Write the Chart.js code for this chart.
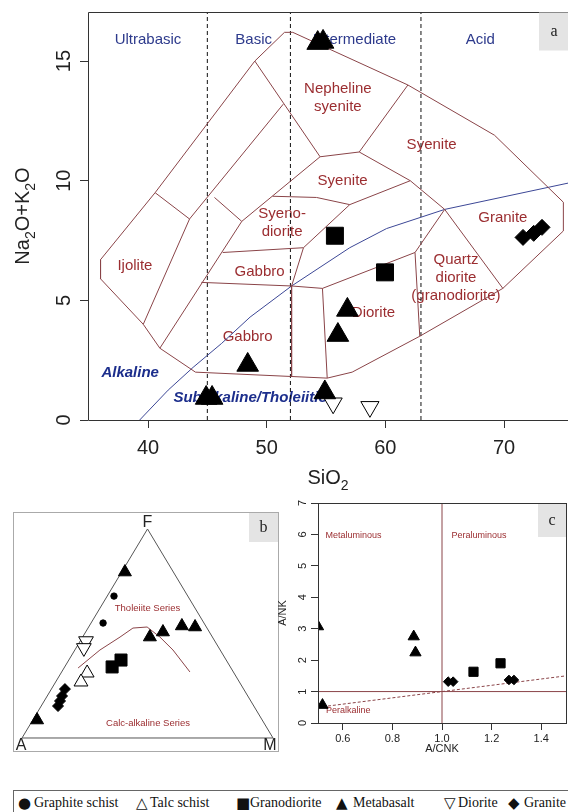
<!DOCTYPE html>
<html>
<head>
<meta charset="utf-8">
<script src="https://cdn.jsdelivr.net/npm/chart.js@4.4.1/dist/chart.umd.min.js"></script>
<style>
html, body { margin: 0; padding: 0; background: #fff; width: 568px; height: 812px; overflow: hidden; }
canvas { position: absolute; }
#legend { position: absolute; left: 13px; top: 790px; width: 600px; height: 40px;
  border-top: 1px solid #666; border-left: 1px solid #666; font: 14px "Liberation Serif", serif; color: #111; }
#legend span { position: absolute; top: 4px; line-height: 16px; white-space: nowrap; }
#legend .sym { font: 15px "DejaVu Sans", sans-serif; top: 3px; }
</style>
</head>
<body>
<canvas id="tas" width="568" height="495" style="left:0;top:0"></canvas>
<canvas id="afm" width="266" height="240" style="left:13px;top:512px"></canvas>
<canvas id="shand" width="296" height="265" style="left:272px;top:495px"></canvas>
<div id="legend"></div>
<script>
// ---------- panel a : TAS ----------
const siO2Ticks = [40, 50, 60, 70];
const alkaliTicks = [0, 5, 10, 15];
const silicaDividers = [45, 52, 63];
const silicaClasses = ['Ultrabasic', 'Basic', 'Intermediate', 'Acid'];
const silicaClassX = [40.0, 48.9, 57.4, 68.0];

const fieldOutline = [[36.0,6.7],[36.0,5.9],[39.6,4.0],[41.0,3.0],[44.0,2.0],[55.1,1.75],[57.2,2.0],
  [62.9,3.5],[69.9,5.5],[75.0,7.9],[75.0,9.1],[69.2,11.9],[61.9,14.0],[52.2,16.2],[51.5,16.2],
  [49.0,15.0],[40.6,9.5],[36.0,6.7]];
const fieldLines = [
  [[40.6,9.5],[43.5,8.4]],
  [[39.6,4.0],[43.5,8.4],[51.4,13.2]],
  [[45.6,9.3],[47.9,8.3]],
  [[41.0,3.0],[47.9,8.3],[54.5,11.0]],
  [[49.0,15.0],[54.5,11.0]],
  [[54.5,11.0],[57.8,11.2],[61.9,14.0]],
  [[57.8,11.2],[62.1,10.0],[65.0,8.8],[69.9,5.5]],
  [[50.5,9.35],[54.2,9.3],[57.0,9.0],[62.1,10.0]],
  [[57.0,9.0],[53.1,7.2],[52.1,5.6]],
  [[46.3,7.0],[53.1,7.2]],
  [[44.5,5.75],[52.1,5.6],[54.7,5.5]],
  [[52.1,5.6],[52.1,1.8]],
  [[54.7,5.5],[55.1,1.75]],
  [[54.7,5.5],[62.5,7.0],[65.0,8.8]],
  [[62.5,7.0],[62.9,3.5]]
];
const alkalineDivide = [[39.3,0],[41.7,1.25],[43.8,2.2],[46.2,3.2],[48.6,4.3],[52.1,5.6],
  [57.0,7.2],[60.1,8.0],[65.0,8.8],[75.4,9.9]];

const fieldNames = [
  [['Nepheline', 'syenite'], 56.0, 13.45],
  [['Syenite'], 63.9, 11.5],
  [['Syenite'], 56.4, 10.0],
  [['Syeno-', 'diorite'], 51.3, 8.25],
  [['Gabbro'], 49.4, 6.17],
  [['Ijolite'], 38.9, 6.46],
  [['Gabbro'], 48.4, 3.46],
  [['Diorite'], 59.0, 4.46],
  [['Granite'], 69.9, 8.46],
  [['Quartz', 'diorite', '(granodiorite)'], 65.95, 5.96]
];
const seriesNames = [['Alkaline', 38.5, 1.96], ['Subalkaline/Tholeiitic', 48.6, 0.92]];

const metabasaltSi = [54.3, 54.75, 56.8, 56.0, 48.4, 44.9, 45.4, 54.9];
const metabasaltAlk = [15.75, 15.8, 4.6, 3.55, 2.3, 0.92, 0.92, 1.15];
const dioriteSi = [55.6, 58.7];
const dioriteAlk = [0.7, 0.55];
const granodioriteSi = [55.75, 59.97];
const granodioriteAlk = [7.7, 6.17];
const graniteSi = [71.6, 72.5, 73.2];
const graniteAlk = [7.63, 7.8, 8.05];

// ---------- panel b : AFM (F %, M %) ----------
const afmMetabasaltF = [79.4, 48.3, 50.7, 53.6, 53.1, 8.6];
const afmMetabasaltM = [1.3, 26.8, 30.8, 36.9, 42.4, 1.7];
const afmGraphiteF = [67.9, 55.0];
const afmGraphiteM = [2.7, 4.8];
const afmDioriteF = [46.4, 43.1];
const afmDioriteM = [2.3, 3.1];
const afmTalcF = [31.1, 26.8];
const afmTalcM = [10.4, 10.1];
const afmGranodioriteF = [34.0, 37.3];
const afmGranodioriteM = [18.9, 20.8];
const afmGraniteF = [23.4, 20.1, 17.7, 15.3];
const afmGraniteM = [5.4, 5.9, 6.3, 6.7];
const tholeiiteLineF = [33.5, 42.1, 48.3, 52.6, 53.1, 48.3, 42.1, 31.6];
const tholeiiteLineM = [5.6, 10.0, 14.9, 17.9, 23.3, 30.8, 39.1, 51.1];

// ---------- panel c : A/NK vs A/CNK ----------
const acnkTicks = [0.6, 0.8, 1.0, 1.2, 1.4];
const ankTicks = [0, 1, 2, 3, 4, 5, 6, 7];
const shandMetabasaltX = [0.5, 0.886, 0.893, 0.518];
const shandMetabasaltY = [3.07, 2.75, 2.24, 0.57];
const shandGranodioriteX = [1.127, 1.236];
const shandGranodioriteY = [1.63, 1.9];
const shandGraniteX = [1.025, 1.045, 1.27, 1.29];
const shandGraniteY = [1.315, 1.315, 1.37, 1.37];

const legendNames = ['Graphite schist', 'Talc schist', 'Granodiorite', 'Metabasalt', 'Diorite', 'Granite'];
const legendSymbols = ['\u25CF', '\u25B3', '\u25A0', '\u25B2', '\u25BD', '\u25C6'];

// ---------------------------------------------------
Chart.defaults.font.family = '"Liberation Sans", Arial, sans-serif';
const FIELD_LINE = '#8a4448';
const FIELD_TEXT = '#9b2d30';
const BLUE_TEXT = '#2d3a8c';

const zip = (xs, ys) => xs.map((x, i) => ({ x, y: ys[i] }));
const path = pts => pts.map(([x, y]) => ({ x, y }));
const ternary = (F, M) => F.map((f, i) => ({ x: M[i] / 100 + f / 200, y: f / 100 }));

function markerSet(data, style, r, fill, rot) {
  return { data, pointStyle: style, pointRadius: r, pointHoverRadius: r, pointRotation: rot || 0,
    pointBackgroundColor: fill, pointBorderColor: '#000', pointBorderWidth: 1, showLine: false, order: 0, clip: 0 };
}
function lineSet(data, color, dash, width) {
  return { data, showLine: true, pointRadius: 0, pointHoverRadius: 0, borderColor: color,
    borderWidth: width || 1, borderDash: dash || [], fill: false, order: 1, clip: 0 };
}
function drawRich(ctx, parts, x, y, size) {
  const big = size + 'px "Liberation Sans"', small = Math.round(size * 0.7) + 'px "Liberation Sans"';
  let w = 0;
  parts.forEach(([t, s]) => { ctx.font = s ? small : big; w += ctx.measureText(t).width; });
  let cx = x - w / 2;
  ctx.textAlign = 'left';
  parts.forEach(([t, s]) => {
    ctx.font = s ? small : big;
    ctx.fillText(t, cx, y + (s ? size * 0.28 : 0));
    cx += ctx.measureText(t).width;
  });
}
function tagBox(ctx, x, y, w, h, letter) {
  ctx.fillStyle = '#e4e4e4';
  ctx.fillRect(x, y, w, h);
  ctx.fillStyle = '#222';
  ctx.font = '16px "Liberation Serif"';
  ctx.textAlign = 'center';
  ctx.textBaseline = 'middle';
  ctx.fillText(letter, x + w / 2, y + h / 2);
}
const noUi = { legend: { display: false }, tooltip: { enabled: false } };

// ================= panel a =================
const tasSets = [
  markerSet(zip(metabasaltSi, metabasaltAlk), 'triangle', 12.5, '#000'),
  markerSet(zip(dioriteSi, dioriteAlk), 'triangle', 10.5, '#fff', 180),
  markerSet(zip(granodioriteSi, granodioriteAlk), 'rect', 12, '#000'),
  markerSet(zip(graniteSi, graniteAlk), 'rectRot', 8, '#000'),
  lineSet(path(fieldOutline), FIELD_LINE),
  ...fieldLines.map(l => lineSet(path(l), FIELD_LINE)),
  lineSet(path(alkalineDivide), '#3c4796'),
  ...silicaDividers.map(v => lineSet([{ x: v, y: 0 }, { x: v, y: 17.05 }], '#111', [4, 3]))
];

const tasDecor = {
  id: 'tasDecor',
  beforeDatasetsDraw(chart) {
    const { ctx } = chart;
    const xs = chart.scales.x, ys = chart.scales.y;
    ctx.save();
    ctx.textAlign = 'center';
    ctx.textBaseline = 'middle';
    ctx.font = '15px "Liberation Sans"';
    ctx.fillStyle = FIELD_TEXT;
    fieldNames.forEach(([lines, sx, sy]) => {
      const px = xs.getPixelForValue(sx), py = ys.getPixelForValue(sy);
      const lh = 18, top = py - (lines.length - 1) * lh / 2;
      lines.forEach((t, i) => ctx.fillText(t, px, top + i * lh));
    });
    ctx.fillStyle = BLUE_TEXT;
    silicaClasses.forEach((t, i) => ctx.fillText(t, xs.getPixelForValue(silicaClassX[i]), ys.getPixelForValue(15.9)));
    ctx.font = 'bold italic 15px "Liberation Sans"';
    ctx.fillStyle = '#1c2e8c';
    seriesNames.forEach(([t, sx, sy]) => ctx.fillText(t, xs.getPixelForValue(sx), ys.getPixelForValue(sy)));
    ctx.restore();
  },
  afterDraw(chart) {
    const { ctx, chartArea: a } = chart;
    const ys = chart.scales.y;
    ctx.save();
    ctx.strokeStyle = '#333';
    ctx.lineWidth = 1;
    ctx.beginPath();
    ctx.moveTo(a.right + 1, a.top + 0.5);
    ctx.lineTo(a.left + 0.5, a.top + 0.5);
    ctx.lineTo(a.left + 0.5, a.bottom + 0.5);
    ctx.lineTo(a.right + 1, a.bottom + 0.5);
    ctx.stroke();
    ctx.fillStyle = '#222';
    ctx.font = '20px "Liberation Sans"';
    ctx.textAlign = 'center';
    ctx.textBaseline = 'alphabetic';
    alkaliTicks.forEach(v => {
      ctx.save();
      ctx.translate(70, ys.getPixelForValue(v));
      ctx.rotate(-Math.PI / 2);
      ctx.fillText(String(v), 0, 0);
      ctx.restore();
    });
    drawRich(ctx, [['SiO', false], ['2', true]], (a.left + a.right) / 2, 484, 20);
    ctx.save();
    ctx.translate(29, (a.top + a.bottom) / 2);
    ctx.rotate(-Math.PI / 2);
    drawRich(ctx, [['Na', false], ['2', true], ['O+K', false], ['2', true], ['O', false]], 0, 0, 20);
    ctx.restore();
    tagBox(ctx, 539, a.top + 0.5, 30, 38, 'a');
    ctx.restore();
  }
};

new Chart(document.getElementById('tas'), {
  type: 'scatter',
  data: { datasets: tasSets },
  options: {
    responsive: false, animation: false, events: [],
    layout: { autoPadding: false, padding: { top: 12, right: 0, left: 0, bottom: 0 } },
    plugins: noUi,
    scales: {
      x: {
        type: 'linear', min: 34.944, max: 75.39,
        afterBuildTicks: s => { s.ticks = siO2Ticks.map(v => ({ value: v })); },
        afterFit: s => { s.height = 75; },
        grid: { drawOnChartArea: false, drawTicks: true, tickLength: 8, color: '#333' },
        border: { display: false },
        ticks: { font: { size: 20 }, color: '#222', padding: 8, maxRotation: 0, autoSkip: false }
      },
      y: {
        type: 'linear', min: 0, max: 17.05,
        afterBuildTicks: s => { s.ticks = alkaliTicks.map(v => ({ value: v })); },
        afterFit: s => { s.width = 88; },
        grid: { drawOnChartArea: false, drawTicks: true, tickLength: 8, color: '#333' },
        border: { display: false },
        ticks: { display: false }
      }
    }
  },
  plugins: [tasDecor]
});

// ================= panel b =================
const afmSets = [
  markerSet(ternary(afmMetabasaltF, afmMetabasaltM), 'triangle', 7.5, '#000'),
  markerSet(ternary(afmGraphiteF, afmGraphiteM), 'circle', 3.2, '#000'),
  markerSet(ternary(afmDioriteF, afmDioriteM), 'triangle', 8.5, '#fff', 180),
  markerSet(ternary(afmTalcF, afmTalcM), 'triangle', 8, '#fff'),
  markerSet(ternary(afmGranodioriteF, afmGranodioriteM), 'rect', 8.5, '#000'),
  markerSet(ternary(afmGraniteF, afmGraniteM), 'rectRot', 5.5, '#000'),
  lineSet([{ x: 0, y: 0 }, { x: 1, y: 0 }, { x: 0.5, y: 1 }, { x: 0, y: 0 }], '#555'),
  lineSet(ternary(tholeiiteLineF, tholeiiteLineM), FIELD_LINE)
];

const afmDecor = {
  id: 'afmDecor',
  afterDraw(chart) {
    const { ctx, width, height } = chart;
    const xs = chart.scales.x, ys = chart.scales.y;
    ctx.save();
    ctx.strokeStyle = '#aaa';
    ctx.lineWidth = 1;
    ctx.strokeRect(0.5, 0.5, width - 1, height - 1);
    ctx.fillStyle = '#222';
    ctx.font = '16px "Liberation Sans"';
    ctx.textAlign = 'center';
    ctx.textBaseline = 'alphabetic';
    ctx.fillText('F', xs.getPixelForValue(0.5), 15);
    ctx.fillText('A', 8, height - 2);
    ctx.fillText('M', 257, height - 2);
    ctx.fillStyle = FIELD_TEXT;
    ctx.font = '9.5px "Liberation Sans"';
    ctx.textBaseline = 'middle';
    ctx.fillText('Tholeiite Series', xs.getPixelForValue(0.5), ys.getPixelForValue(0.62));
    ctx.fillText('Calc-alkaline Series', xs.getPixelForValue(0.502), ys.getPixelForValue(0.072));
    tagBox(ctx, 236, 1, 29, 29, 'b');
    ctx.restore();
  }
};

new Chart(document.getElementById('afm'), {
  type: 'scatter',
  data: { datasets: afmSets },
  options: {
    responsive: false, animation: false, events: [],
    layout: { autoPadding: false, padding: 0 },
    plugins: noUi,
    scales: {
      x: { type: 'linear', display: false, min: -0.03586, max: 1.0239 },
      y: { type: 'linear', display: false, min: -0.067, max: 1.0813 }
    }
  },
  plugins: [afmDecor]
});

// ================= panel c =================
const shandSets = [
  markerSet(zip(shandMetabasaltX, shandMetabasaltY), 'triangle', 6.5, '#000'),
  markerSet(zip(shandGranodioriteX, shandGranodioriteY), 'rect', 6.5, '#000'),
  markerSet(zip(shandGraniteX, shandGraniteY), 'rectRot', 4.8, '#000'),
  lineSet([{ x: 1, y: 0 }, { x: 1, y: 7 }], FIELD_LINE),
  lineSet([{ x: 0.5, y: 1 }, { x: 1.5, y: 1 }], FIELD_LINE),
  lineSet([{ x: 0.52, y: 0.52 }, { x: 1.5, y: 1.5 }], FIELD_LINE, [3, 2])
];

const shandDecor = {
  id: 'shandDecor',
  beforeDatasetsDraw(chart) {
    const { ctx } = chart;
    const xs = chart.scales.x, ys = chart.scales.y;
    ctx.save();
    ctx.fillStyle = FIELD_TEXT;
    ctx.font = '9px "Liberation Sans"';
    ctx.textAlign = 'center';
    ctx.textBaseline = 'middle';
    ctx.fillText('Metaluminous', xs.getPixelForValue(0.643), ys.getPixelForValue(5.96));
    ctx.fillText('Peraluminous', xs.getPixelForValue(1.149), ys.getPixelForValue(5.96));
    ctx.fillText('Peralkaline', xs.getPixelForValue(0.622), ys.getPixelForValue(0.41));
    ctx.restore();
  },
  afterDraw(chart) {
    const { ctx, chartArea: a } = chart;
    const ys = chart.scales.y;
    ctx.save();
    ctx.strokeStyle = '#333';
    ctx.lineWidth = 1;
    ctx.strokeRect(a.left + 0.5, a.top + 0.5, a.right - a.left, a.bottom - a.top);
    ctx.fillStyle = '#222';
    ctx.font = '11px "Liberation Sans"';
    ctx.textAlign = 'center';
    ctx.textBaseline = 'alphabetic';
    ankTicks.forEach(v => {
      ctx.save();
      ctx.translate(34, ys.getPixelForValue(v));
      ctx.rotate(-Math.PI / 2);
      ctx.fillText(String(v), 0, 0);
      ctx.restore();
    });
    ctx.fillText('A/CNK', (a.left + a.right) / 2, 257);
    ctx.save();
    ctx.translate(14, (a.top + a.bottom) / 2);
    ctx.rotate(-Math.PI / 2);
    ctx.fillText('A/NK', 0, 0);
    ctx.restore();
    tagBox(ctx, a.right - 28, a.top + 1, 28, 33, 'c');
    ctx.restore();
  }
};

new Chart(document.getElementById('shand'), {
  type: 'scatter',
  data: { datasets: shandSets },
  options: {
    responsive: false, animation: false, events: [],
    layout: { autoPadding: false, padding: { top: 8, right: 2, left: 0, bottom: 0 } },
    plugins: noUi,
    scales: {
      x: {
        type: 'linear', min: 0.5, max: 1.5,
        afterBuildTicks: s => { s.ticks = acnkTicks.map(v => ({ value: v })); },
        afterFit: s => { s.height = 37; },
        grid: { drawOnChartArea: false, drawTicks: true, tickLength: 7, color: '#333' },
        border: { display: false },
        ticks: { font: { size: 11 }, color: '#222', padding: 2, maxRotation: 0, autoSkip: false,
          callback: v => v.toFixed(1) }
      },
      y: {
        type: 'linear', min: 0, max: 7,
        afterBuildTicks: s => { s.ticks = ankTicks.map(v => ({ value: v })); },
        afterFit: s => { s.width = 46; },
        grid: { drawOnChartArea: false, drawTicks: true, tickLength: 7, color: '#333' },
        border: { display: false },
        ticks: { display: false }
      }
    }
  },
  plugins: [shandDecor]
});

// ================= legend =================
const legendSymbolX = [4, 122, 222, 322, 430, 494];
const legendTextX = [20, 136, 236, 339, 444, 510];
const legend = document.getElementById('legend');
legendNames.forEach((name, i) => {
  const s = document.createElement('span');
  s.className = 'sym';
  s.style.left = legendSymbolX[i] + 'px';
  s.textContent = legendSymbols[i];
  legend.appendChild(s);
  const t = document.createElement('span');
  t.style.left = legendTextX[i] + 'px';
  t.textContent = name;
  legend.appendChild(t);
});
</script>
</body>
</html>
